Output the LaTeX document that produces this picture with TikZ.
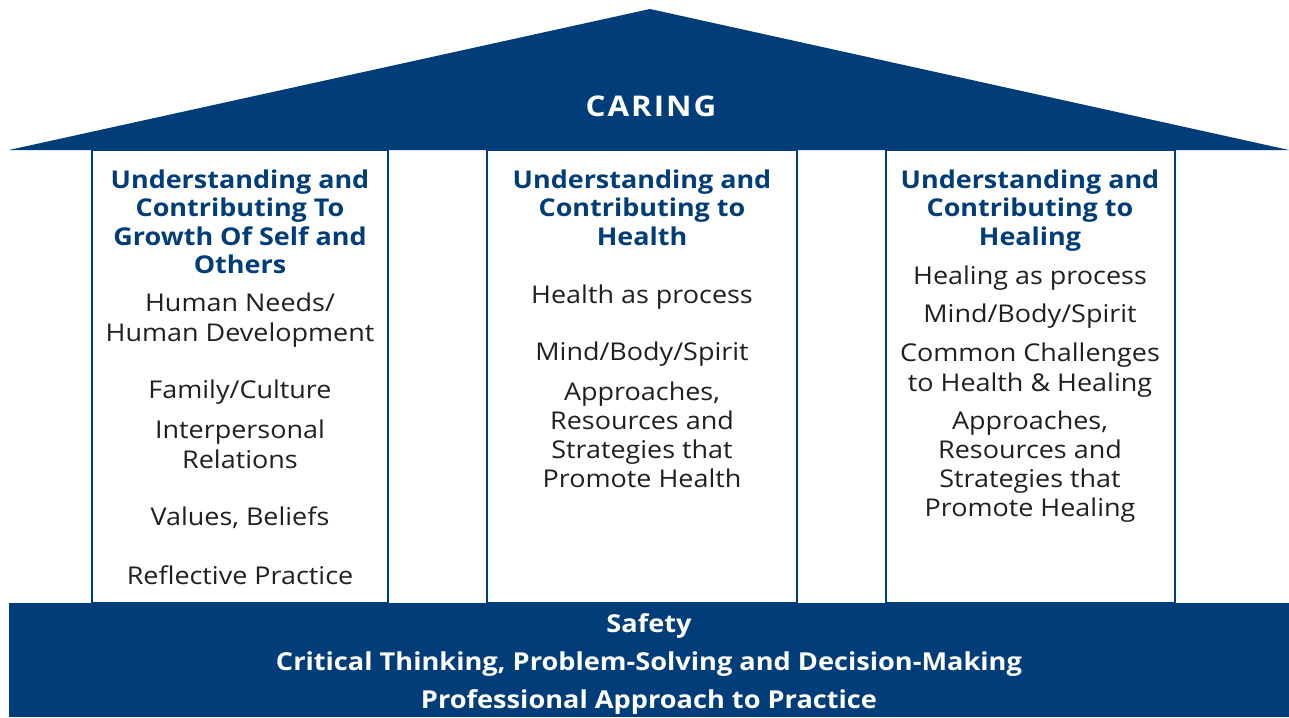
\documentclass[tikz,border=0pt]{standalone}
\usepackage{fontspec}
\setmainfont[FakeStretch=1.1]{Open Sans}
\definecolor{navy}{RGB}{0,61,121}
\definecolor{txt}{RGB}{35,31,32}
\tikzset{
  roofshape/.style={fill=navy, draw=none},
  colbox/.style={draw=navy, line width=1.4pt, fill=white},
  head/.style={text=navy, font=\fontsize{24.5}{28}\selectfont\bfseries, anchor=base, inner sep=0pt},
  body/.style={text=txt, font=\fontsize{24.5}{28}\selectfont, anchor=base, inner sep=0pt},
  btxt/.style={text=white, font=\fontsize{24.7}{28}\selectfont\bfseries, anchor=base, inner sep=0pt},
  title/.style={text=white, font=\fontsize{28.5}{32}\selectfont\bfseries\addfontfeature{LetterSpace=7}, anchor=base, inner sep=0pt},
}
\begin{document}
\begin{tikzpicture}[x=1pt,y=-1pt]
\useasboundingbox (0,0) rectangle (1289,717);
% columns
\draw[colbox] (92,150) rectangle (388,603);
\draw[colbox] (487,150) rectangle (797,603);
\draw[colbox] (886,150) rectangle (1175,603);
% roof and base
\fill[roofshape] (9,150) -- (650,9) -- (1289,150) -- cycle;
\fill[roofshape] (9,603) rectangle (1289,717);
\node[title] (caring) at (651,116) {CARING};
% column 1
\node[head] (h1a) at (240,188) {Understanding and};
\node[head] (h1b) at (240,216) {Contributing To};
\node[head] (h1c) at (240,245) {Growth Of Self and};
\node[head] (h1d) at (240,273) {Others};
\node[body] (c1a) at (240,311) {Human Needs/};
\node[body] (c1b) at (240,341) {Human Development};
\node[body] (c1c) at (240,398) {Family/Culture};
\node[body] (c1d) at (240,438) {Interpersonal};
\node[body] (c1e) at (240,468) {Relations};
\node[body] (c1f) at (240,525) {Values, Beliefs};
\node[body] (c1g) at (240,584) {Reflective Practice};
% column 2
\node[head] (h2a) at (642,188) {Understanding and};
\node[head] (h2b) at (642,216) {Contributing to};
\node[head] (h2c) at (642,245) {Health};
\node[body] (c2a) at (642,303) {Health as process};
\node[body] (c2b) at (642,360) {Mind/Body/Spirit};
\node[body] (c2c) at (642,400) {Approaches,};
\node[body] (c2d) at (642,429) {Resources and};
\node[body] (c2e) at (642,458) {Strategies that};
\node[body] (c2f) at (642,487) {Promote Health};
% column 3
\node[head] (h3a) at (1030,188) {Understanding and};
\node[head] (h3b) at (1030,216) {Contributing to};
\node[head] (h3c) at (1030,245) {Healing};
\node[body] (c3a) at (1030,284) {Healing as process};
\node[body] (c3b) at (1030,322) {Mind/Body/Spirit};
\node[body] (c3c) at (1030,361) {Common Challenges};
\node[body] (c3d) at (1030,391) {to Health \& Healing};
\node[body] (c3e) at (1030,429) {Approaches,};
\node[body] (c3f) at (1030,458) {Resources and};
\node[body] (c3g) at (1030,487) {Strategies that};
\node[body] (c3h) at (1030,516) {Promote Healing};
% base
\node[btxt] (b1) at (649,632) {Safety};
\node[btxt] (b2) at (649,670) {Critical Thinking, Problem-Solving and Decision-Making};
\node[btxt] (b3) at (649,708) {Professional Approach to Practice};
\end{tikzpicture}
\end{document}
